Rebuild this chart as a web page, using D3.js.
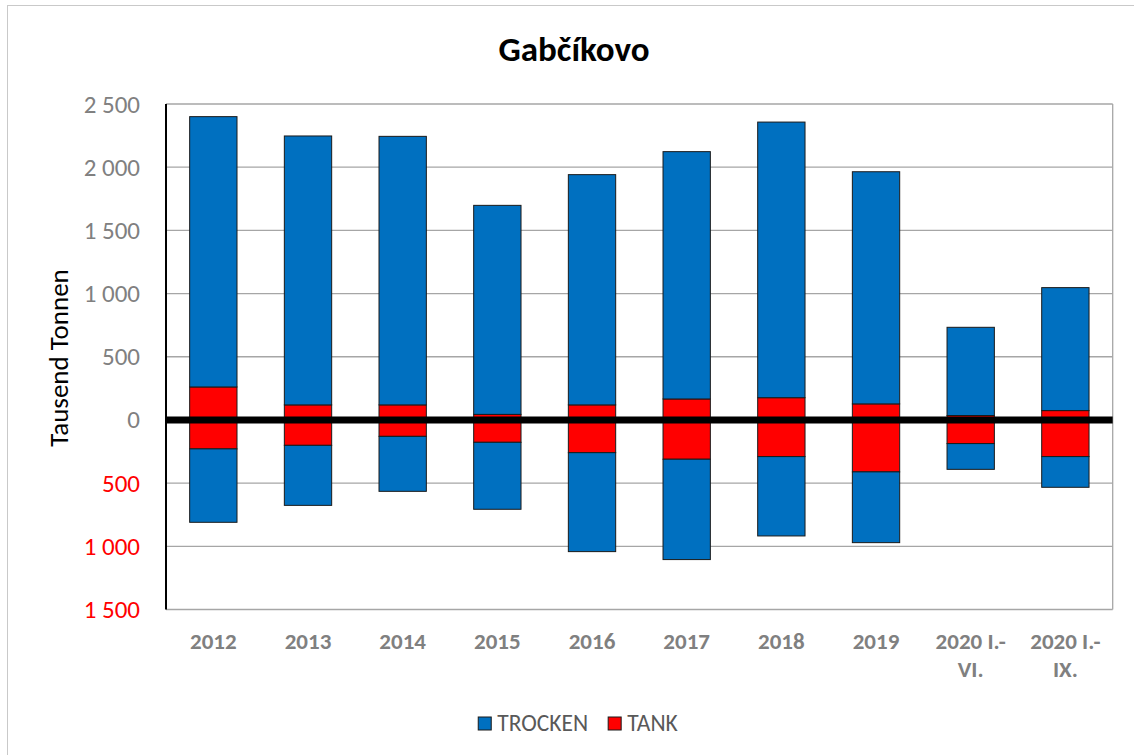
<!DOCTYPE html>
<html>
<head>
<meta charset="utf-8">
<script src="https://cdn.jsdelivr.net/npm/d3@7"></script>
<style>
  body { margin: 0; background: #fff; }
  svg { display: block; font-family: Calibri, Carlito, Lato, sans-serif; }
</style>
</head>
<body>
<div id="chart"></div>
<script>
// data (thousand tonnes)
var categories = ['2012', '2013', '2014', '2015', '2016', '2017', '2018', '2019', '2020 I.-VI.', '2020 I.-IX.']
// upper half (positive side)
var trockenUp = [2139, 2128, 2125, 1654, 1822, 1957, 2181, 1837, 698, 973]
var tankUp = [261, 119, 119, 44, 119, 166, 176, 127, 35, 74]
// lower half (drawn below zero)
var trockenDown = [581, 475, 435, 530, 783, 794, 628, 560, 204, 243]
var tankDown = [229, 201, 130, 177, 259, 311, 290, 411, 187, 290]
var yTicks = [2500, 2000, 1500, 1000, 500, 0, -500, -1000, -1500]
var seriesNames = ['TROCKEN', 'TANK']
var colors = { TROCKEN: '#0070c0', TANK: '#ff0000' }

var W = 1134, H = 755
var margin = { top: 104, right: 21.3, bottom: 145.5, left: 166 }
var width = W - margin.left - margin.right
var height = H - margin.top - margin.bottom

var rows = categories.map(function (c, i) {
    return { cat: c, tankUp: tankUp[i], tankDown: -tankDown[i], trockenUp: trockenUp[i], trockenDown: -trockenDown[i] }
})

// tank sits next to zero, trocken stacked outside of it
var stack = d3.stack()
    .keys(['tankUp', 'tankDown', 'trockenUp', 'trockenDown'])
    .offset(d3.stackOffsetDiverging)
var layers = stack(rows)

var x = d3.scaleBand()
    .domain(categories)
    .range([0, width])
    .paddingInner(0.5)
    .paddingOuter(0.25)
var y = d3.scaleLinear()
    .domain([-1500, 2500])
    .range([height, 0])

var svg = d3.select('#chart').append('svg')
    .attr('width', W)
    .attr('height', H)

// chart frame
svg.append('rect')
    .attr('x', 7.5).attr('y', 5.5)
    .attr('width', W).attr('height', H)
    .style('fill', 'none')
    .style('stroke', '#c9c9c9')
    .style('stroke-width', 1)

svg.append('text')
    .attr('x', 574).attr('y', 61)
    .attr('text-anchor', 'middle')
    .style('font-size', '35px')
    .style('font-weight', 'bold')
    .style('fill', '#000')
    .text('Gabčíkovo')

var g = svg.append('g')
    .attr('transform', 'translate(' + margin.left + ',' + margin.top + ')')

// gridlines
g.append('g').selectAll('line')
    .data(yTicks)
    .enter().append('line')
    .attr('x1', 0).attr('x2', width)
    .attr('y1', function (d) { return y(d) })
    .attr('y2', function (d) { return y(d) })
    .style('stroke', '#a6a6a6')
    .style('stroke-width', 1.3)
g.append('line')
    .attr('x1', width).attr('x2', width)
    .attr('y1', 0).attr('y2', height)
    .style('stroke', '#a6a6a6')
    .style('stroke-width', 1.3)

// y axis with absolute values, lower half in red
var yAxis = d3.axisLeft(y)
    .tickValues(yTicks)
    .tickSize(0)
    .tickPadding(26)
    .tickFormat(function (d) { return d3.format(',')(Math.abs(d)).replace(/,/g, ' ') })
var gy = g.append('g').call(yAxis)
gy.select('.domain').remove()
gy.selectAll('text')
    .style('font-family', 'Calibri, Carlito, Lato, sans-serif')
    .style('font-size', '25px')
    .style('fill', function (d) { return d < 0 ? '#ff0000' : '#808080' })

svg.append('text')
    .attr('transform', 'translate(68,358) rotate(-90)')
    .attr('text-anchor', 'middle')
    .style('font-size', '27px')
    .style('fill', '#000')
    .text('Tausend Tonnen')

// bars
g.append('g').selectAll('g')
    .data(layers)
    .enter().append('g')
    .style('fill', function (d) { return d.key.indexOf('tank') === 0 ? colors.TANK : colors.TROCKEN })
    .selectAll('rect')
    .data(function (d) { return d })
    .enter().append('rect')
    .attr('x', function (d) { return x(d.data.cat) })
    .attr('width', x.bandwidth())
    .attr('y', function (d) { return y(Math.max(d[0], d[1])) })
    .attr('height', function (d) { return Math.abs(y(d[0]) - y(d[1])) })
    .style('stroke', '#1a1a1a')
    .style('stroke-width', 1)

// left axis line and heavy zero line
g.append('line')
    .attr('x1', 0).attr('x2', 0)
    .attr('y1', 0).attr('y2', height)
    .style('stroke', '#000')
    .style('stroke-width', 2)
g.append('line')
    .attr('x1', 0).attr('x2', width)
    .attr('y1', y(0)).attr('y2', y(0))
    .style('stroke', '#000')
    .style('stroke-width', 7)

// category labels, wrapped after "I.-"
var xl = g.append('g').selectAll('text')
    .data(categories)
    .enter().append('text')
    .attr('x', function (d) { return x(d) + x.bandwidth() / 2 })
    .attr('y', height + 39.5)
    .attr('text-anchor', 'middle')
    .style('font-size', '23px')
    .style('font-weight', 'bold')
    .style('fill', '#808080')
xl.each(function (d) {
    var parts = d.split(/(?<=-)/)
    var t = d3.select(this)
    parts.forEach(function (p, i) {
        t.append('tspan')
            .attr('x', t.attr('x'))
            .attr('dy', i === 0 ? 0 : 28)
            .text(p)
    })
})

// legend
var legend = svg.append('g')
var lx = 0
seriesNames.forEach(function (name, i) {
    var item = legend.append('g').attr('transform', 'translate(' + lx + ',0)')
    item.append('rect')
        .attr('x', 0).attr('y', 717)
        .attr('width', 13).attr('height', 13)
        .style('fill', colors[name])
        .style('stroke', '#1a1a1a')
        .style('stroke-width', 1)
    var t = item.append('text')
        .attr('x', 19).attr('y', 731)
        .style('font-size', '23.5px')
        .style('fill', '#595959')
        .text(name)
    lx += 19 + t.node().getComputedTextLength() + 20
})
var lw = lx - 20
legend.attr('transform', 'translate(' + (578 - lw / 2) + ',0)')
</script>
</body>
</html>
